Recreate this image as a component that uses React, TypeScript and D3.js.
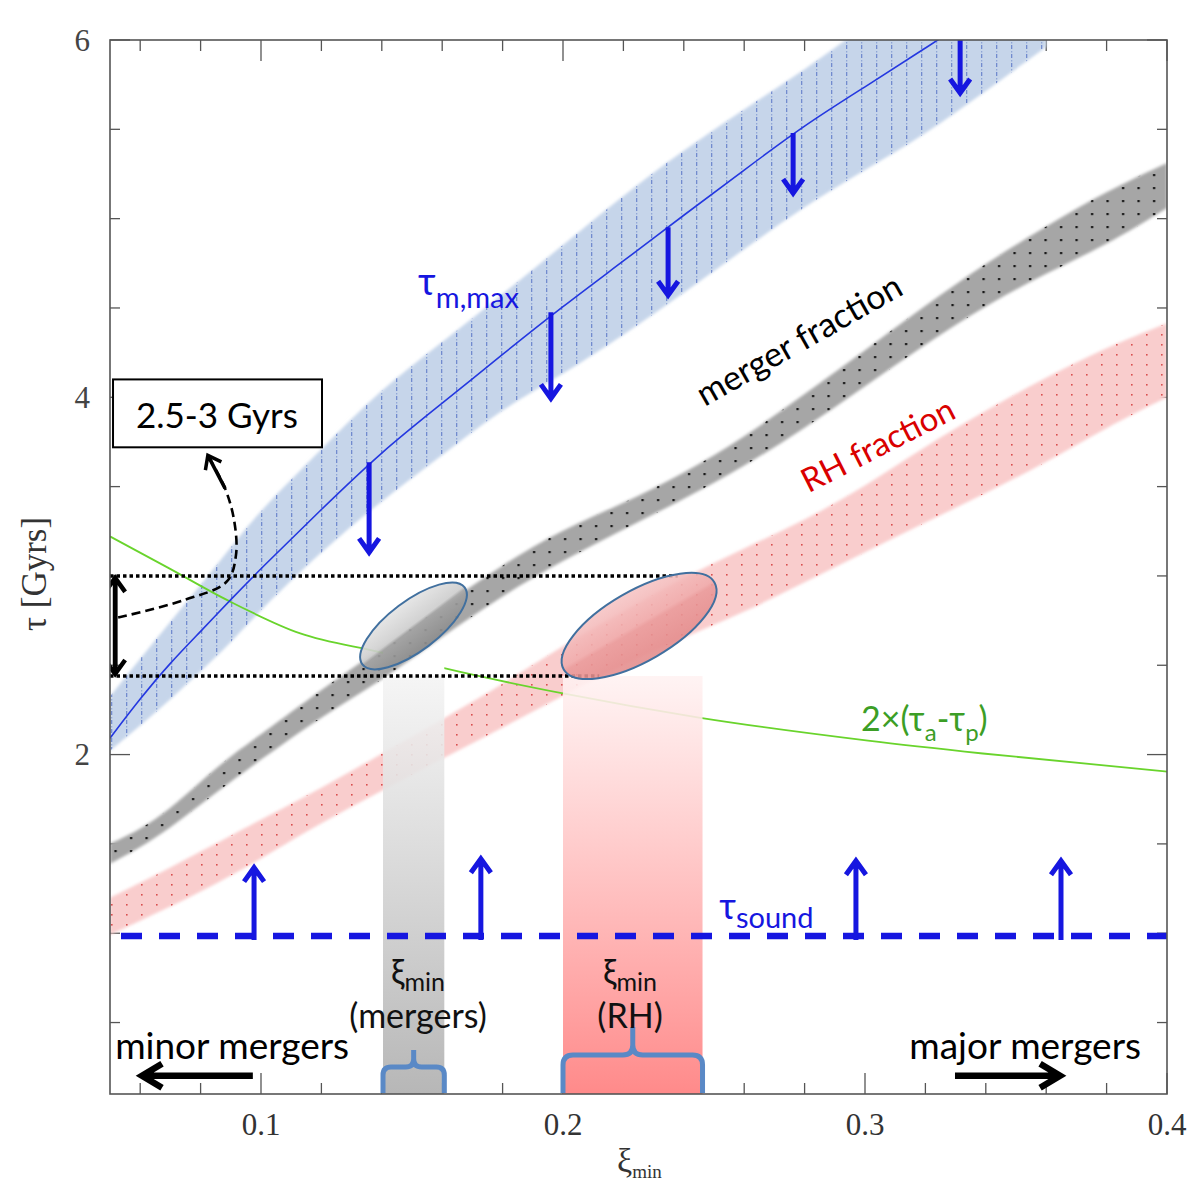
import React from 'react';
import * as d3 from 'd3';

// ---------- data ----------
const bandX = [0.05, 0.06, 0.07, 0.08, 0.09, 0.10, 0.12, 0.14, 0.16, 0.18, 0.20, 0.22, 0.24, 0.26, 0.28, 0.30, 0.32, 0.34, 0.36, 0.38, 0.40];

// tau_m,max band (upper limit) and its central line
const blueX = [0.05, 0.06, 0.07, 0.08, 0.09, 0.10, 0.12, 0.14, 0.16, 0.18, 0.20, 0.22, 0.24, 0.26, 0.28, 0.30, 0.32, 0.34, 0.36];
const blueLower = [2.022, 2.162, 2.308, 2.465, 2.627, 2.812, 3.137, 3.423, 3.675, 3.938, 4.129, 4.347, 4.583, 4.829, 5.070, 5.272, 5.473, 5.714, 5.961];
const blueUpper = [2.325, 2.538, 2.745, 2.947, 3.160, 3.373, 3.709, 4.050, 4.308, 4.577, 4.852, 5.132, 5.384, 5.613, 5.832, 6.078, 6.325, 6.56, 6.78];
const blueLineX = [0.05, 0.06, 0.07, 0.08, 0.09, 0.10, 0.12, 0.14, 0.16, 0.18, 0.20, 0.22, 0.24, 0.26, 0.28, 0.30, 0.32, 0.34];
const blueLineY = [2.092, 2.314, 2.515, 2.689, 2.868, 3.042, 3.373, 3.697, 3.966, 4.241, 4.510, 4.762, 5.020, 5.272, 5.524, 5.737, 5.955, 6.174];

// merger fraction band
const mergerLower = [1.389, 1.479, 1.591, 1.720, 1.849, 1.972, 2.213, 2.415, 2.661, 2.891, 3.087, 3.261, 3.429, 3.613, 3.826, 4.062, 4.297, 4.515, 4.695, 4.852, 5.059];
const mergerUpper = [1.501, 1.580, 1.697, 1.849, 1.994, 2.112, 2.364, 2.599, 2.829, 3.064, 3.261, 3.406, 3.574, 3.776, 4.017, 4.263, 4.515, 4.751, 4.958, 5.154, 5.311];

// RH fraction band
const rhLower = [0.992, 1.070, 1.148, 1.232, 1.322, 1.417, 1.619, 1.798, 1.978, 2.151, 2.331, 2.504, 2.655, 2.796, 2.964, 3.132, 3.300, 3.462, 3.636, 3.832, 4.000];
const rhUpper = [1.199, 1.283, 1.367, 1.457, 1.546, 1.636, 1.810, 2.006, 2.196, 2.392, 2.611, 2.801, 2.992, 3.154, 3.311, 3.501, 3.725, 3.927, 4.112, 4.280, 4.415];

// 2 x (tau_a - tau_p)
const greenX = [0.05, 0.069, 0.089, 0.113, 0.14, 0.161, 0.2, 0.245, 0.301, 0.339, 0.40];
const greenY = [3.221, 3.048, 2.863, 2.678, 2.571, 2.482, 2.342, 2.207, 2.078, 2.006, 1.905];

// upper-limit arrows on tau_m,max
const downArrowX = [0.1358, 0.196, 0.2348, 0.2762, 0.3315];
const downArrowTop = [3.636, 4.476, 4.952, 5.479, 6.0];
const downArrowTip = [3.132, 3.994, 4.571, 5.143, 5.703];

// tau_sound lower limit
const tauSound = 0.985;
const upArrowX = [0.0977, 0.1728, 0.297, 0.3649];
const upArrowTip = [1.367, 1.417, 1.406, 1.406];

// xi_min ranges
const mergerRange = [0.1404, 0.1607];
const rhRange = [0.2, 0.2462];
const rangeTop = 2.44;

// 2.5-3 Gyr window
const windowHigh = 3.0;
const windowLow = 2.44;
const windowHighEnd = 0.238;
const windowLowEnd = 0.212;
const ellipseCenterX = [0.1505, 0.2252];
const ellipseCenterY = [2.72, 2.72];

// dashed pointer from the window to the box
const pointerX = [0.0527, 0.0742, 0.0887, 0.0917, 0.0911, 0.0881, 0.0824];
const pointerY = [2.767, 2.863, 2.969, 3.115, 3.311, 3.490, 3.675];

// axes
const xTickLabels = [0.1, 0.2, 0.3, 0.4];
const yTickLabels = [2, 4, 6];

export default function App() {
  const W = 1200;
  const H = 1195;
  const x = d3.scaleLinear().domain([0.05, 0.4]).range([110, 1167]);
  const y = d3.scaleLinear().domain([0.1, 6]).range([1094, 40]);
  const [X0, X1] = x.range();
  const [Y0, Y1] = y.range(); // Y0 bottom, Y1 top

  const bandPath = (xs: number[], lo: number[], hi: number[]) =>
    d3.area<number>()
      .x((i) => x(xs[i]))
      .y0((i) => y(lo[i]))
      .y1((i) => y(hi[i]))
      .curve(d3.curveBasis)(d3.range(xs.length)) as string;

  const linePath = (xs: number[], ys: number[], curve: any = d3.curveBasis) =>
    d3.line<number>()
      .x((i) => x(xs[i]))
      .y((i) => y(ys[i]))
      .curve(curve)(d3.range(xs.length)) as string;

  const arrowPath = (x1: number, y1: number, x2: number, y2: number, hl: number, hw: number) => {
    const dx = x2 - x1, dy = y2 - y1;
    const L = Math.hypot(dx, dy);
    const ux = dx / L, uy = dy / L, px = -uy, py = ux;
    const bx = x2 - ux * hl, by = y2 - uy * hl;
    return `M${x1},${y1}L${x2},${y2}M${bx + px * hw},${by + py * hw}L${x2},${y2}L${bx - px * hw},${by - py * hw}`;
  };

  const brace = (xa: number, xb: number, yBottom: number, yBar: number, yTip: number, r: number) => {
    const cx = (xa + xb) / 2;
    return `M${xa},${yBottom}L${xa},${yBar + r}Q${xa},${yBar} ${xa + r},${yBar}L${cx - r},${yBar}Q${cx},${yBar} ${cx},${yBar - r}L${cx},${yTip}` +
      `M${cx},${yBar - r}Q${cx},${yBar} ${cx + r},${yBar}L${xb - r},${yBar}Q${xb},${yBar} ${xb},${yBar + r}L${xb},${yBottom}`;
  };

  const xTicks = d3.range(0.06, 0.4001, 0.02);
  const yTicks = d3.range(0.5, 6.001, 0.5);
  const isMajor = (v: number, labels: number[]) => labels.some((l) => Math.abs(l - v) < 1e-6);

  const sans = "Lato, 'Open Sans', 'Noto Sans', sans-serif";
  const serif = "'Liberation Serif', 'DejaVu Serif', serif";
  const blue = '#1616e0';
  const axisCol = '#555';

  // pointer arrowhead
  const pn = pointerX.length;
  const pTipX = x(pointerX[pn - 1]), pTipY = y(pointerY[pn - 1]);
  const pPrevX = x(pointerX[pn - 2]), pPrevY = y(pointerY[pn - 2]);

  return (
    <svg width={W} height={H} style={{ position: 'absolute', left: 0, top: 0, background: '#fff' }}>
      <defs>
        <clipPath id="plotClip">
          <rect x={X0} y={Y1} width={X1 - X0} height={Y0 - Y1} />
        </clipPath>
        <clipPath id="greenClip">
          <rect x={X0} y={Y1} width={x(mergerRange[0]) - X0} height={Y0 - Y1} />
          <rect x={x(mergerRange[1])} y={Y1} width={X1 - x(mergerRange[1])} height={Y0 - Y1} />
        </clipPath>
        <filter id="soft" x="-5%" y="-5%" width="110%" height="110%">
          <feGaussianBlur stdDeviation="1.6" />
        </filter>
        <pattern id="blueHatch" patternUnits="userSpaceOnUse" width="15" height="9">
          <rect x="6" y="0" width="1.3" height="4" fill="#2b4fb5" opacity="0.55" />
          <rect x="6" y="6" width="1.3" height="1.5" fill="#2b4fb5" opacity="0.35" />
        </pattern>
        <pattern id="grayDots" patternUnits="userSpaceOnUse" width="15.5" height="13">
          <rect x="6" y="5" width="2.2" height="2.2" fill="#111" />
        </pattern>
        <pattern id="redDots" patternUnits="userSpaceOnUse" width="15" height="10">
          <rect x="6" y="4" width="1.6" height="1.6" fill="#d03030" opacity="0.8" />
        </pattern>
        <linearGradient id="grayCol" x1="0" y1="0" x2="0" y2="1">
          <stop offset="0" stopColor="#f4f4f4" stopOpacity="0.88" />
          <stop offset="1" stopColor="#b3b3b3" stopOpacity="0.95" />
        </linearGradient>
        <linearGradient id="redCol" x1="0" y1="0" x2="0" y2="1">
          <stop offset="0" stopColor="#fff2f2" stopOpacity="0.88" />
          <stop offset="0.45" stopColor="#ffc4c4" stopOpacity="0.95" />
          <stop offset="1" stopColor="#ff8a8a" stopOpacity="1" />
        </linearGradient>
        <linearGradient id="grayEll" x1="0" y1="0" x2="0" y2="1">
          <stop offset="0" stopColor="#e4e4e4" />
          <stop offset="0.47" stopColor="#cdcdcd" />
          <stop offset="0.53" stopColor="#a4a4a4" />
          <stop offset="1" stopColor="#8c8c8c" />
        </linearGradient>
        <linearGradient id="redEll" x1="0" y1="0" x2="0" y2="1">
          <stop offset="0" stopColor="#f6c4c4" />
          <stop offset="0.47" stopColor="#f0abab" />
          <stop offset="0.53" stopColor="#ea9a9a" />
          <stop offset="1" stopColor="#e38a8a" />
        </linearGradient>
      </defs>

      {/* axis ticks (under the shaded columns) */}
      <g stroke={axisCol} strokeWidth={1.3}>
        {xTicks.map((t, i) => {
          const len = isMajor(t, xTickLabels) ? 21 : 11;
          return (
            <g key={'xt' + i}>
              <line x1={x(t)} x2={x(t)} y1={Y0} y2={Y0 - len} />
              <line x1={x(t)} x2={x(t)} y1={Y1} y2={Y1 + len} />
            </g>
          );
        })}
        {yTicks.map((t, i) => {
          const len = isMajor(t, yTickLabels) ? 20 : 10;
          return (
            <g key={'yt' + i}>
              <line x1={X0} x2={X0 + len} y1={y(t)} y2={y(t)} />
              <line x1={X1} x2={X1 - len} y1={y(t)} y2={y(t)} />
            </g>
          );
        })}
      </g>

      <g clipPath="url(#plotClip)">
        {/* tau_m,max band */}
        <path d={bandPath(blueX, blueLower, blueUpper)} fill="#c6d5ea" filter="url(#soft)" />
        <path d={bandPath(blueX, blueLower, blueUpper)} fill="url(#blueHatch)" />
        {/* merger fraction band */}
        <path d={bandPath(bandX, mergerLower, mergerUpper)} fill="#a6a6a6" filter="url(#soft)" />
        <path d={bandPath(bandX, mergerLower, mergerUpper)} fill="url(#grayDots)" />
        {/* RH fraction band */}
        <path d={bandPath(bandX, rhLower, rhUpper)} fill="#f9cdcd" filter="url(#soft)" />
        <path d={bandPath(bandX, rhLower, rhUpper)} fill="url(#redDots)" />

        {/* 2x(tau_a - tau_p) */}
        <path d={linePath(greenX, greenY, d3.curveMonotoneX)} fill="none" stroke="#69d42c" strokeWidth={1.8} clipPath="url(#greenClip)" />

        {/* xi_min columns */}
        <rect x={x(mergerRange[0])} y={y(rangeTop)} width={x(mergerRange[1]) - x(mergerRange[0])} height={Y0 - y(rangeTop)} fill="url(#grayCol)" />
        <rect x={x(rhRange[0])} y={y(rangeTop)} width={x(rhRange[1]) - x(rhRange[0])} height={Y0 - y(rangeTop)} fill="url(#redCol)" />

        {/* central tau_m,max line */}
        <path d={linePath(blueLineX, blueLineY)} fill="none" stroke="#2438e0" strokeWidth={1.6} />
        {downArrowX.map((v, i) => (
          <path key={'da' + i} d={arrowPath(x(v), y(downArrowTop[i]), x(v), y(downArrowTip[i]), 14, 10)}
            fill="none" stroke={blue} strokeWidth={5} strokeLinejoin="miter" />
        ))}

        {/* tau_sound */}
        <line x1={X0} x2={X1} y1={y(tauSound)} y2={y(tauSound)} stroke={blue} strokeWidth={6.5}
          strokeDasharray="21 17" strokeDashoffset={27} />
        {upArrowX.map((v, i) => (
          <path key={'ua' + i} d={arrowPath(x(v), y(tauSound) + 4, x(v), y(upArrowTip[i]), 14, 10)}
            fill="none" stroke={blue} strokeWidth={5} strokeLinejoin="miter" />
        ))}

        {/* 2.5 - 3 Gyr window */}
        <line x1={X0} x2={x(windowHighEnd)} y1={y(windowHigh)} y2={y(windowHigh)} stroke="#000" strokeWidth={3.5} strokeDasharray="3.5 3" />
        <line x1={X0} x2={x(windowLowEnd)} y1={y(windowLow)} y2={y(windowLow)} stroke="#000" strokeWidth={3.5} strokeDasharray="3.5 3" />
        <g transform={`translate(${x(ellipseCenterX[0])},${y(ellipseCenterY[0])}) rotate(-37)`}>
          <ellipse rx={64} ry={25} fill="url(#grayEll)" fillOpacity={0.9} stroke="#41709f" strokeWidth={2} />
        </g>
        <g transform={`translate(${x(ellipseCenterX[1])},${y(ellipseCenterY[1])}) rotate(-30)`}>
          <ellipse rx={87} ry={35} fill="url(#redEll)" fillOpacity={0.88} stroke="#41709f" strokeWidth={2} />
        </g>
        <path d={arrowPath(x(0.0517), y(windowLow) - 2, x(0.0517), y(windowHigh) + 2, 14, 10)} fill="none" stroke="#000" strokeWidth={4.5} />
        <path d={arrowPath(x(0.0517), y(windowHigh) + 2, x(0.0517), y(windowLow) - 2, 14, 10)} fill="none" stroke="#000" strokeWidth={4.5} />

        {/* dashed pointer to the box */}
        <path d={linePath(pointerX, pointerY, d3.curveCatmullRom)} fill="none" stroke="#000" strokeWidth={2.6} strokeDasharray="9 5" />
        <path d={arrowPath(pPrevX, pPrevY, pTipX, pTipY, 12, 9)} fill="none" stroke="#000" strokeWidth={3.5} />

        {/* minor / major mergers arrows */}
        <path d={arrowPath(x(0.0973), y(0.202), x(0.0606), y(0.202), 20, 12)} fill="none" stroke="#000" strokeWidth={6.5} />
        <path d={arrowPath(x(0.3298), y(0.202), x(0.3646), y(0.202), 20, 12)} fill="none" stroke="#000" strokeWidth={6.5} />

        {/* braces */}
        <path d={brace(x(mergerRange[0]), x(mergerRange[1]), Y0 - 1, Y0 - 27, Y0 - 44, 8)} fill="none" stroke="#5a89c6" strokeWidth={5} />
        <path d={brace(x(rhRange[0]), x(rhRange[1]), Y0 - 1, Y0 - 39, Y0 - 67, 10)} fill="none" stroke="#5a89c6" strokeWidth={5} />
      </g>

      {/* frame */}
      <rect x={X0} y={Y1} width={X1 - X0} height={Y0 - Y1} fill="none" stroke={axisCol} strokeWidth={1.6} />

      {/* box */}
      <rect x={x(0.051)} y={y(4.10)} width={x(0.1202) - x(0.051)} height={y(3.72) - y(4.10)} fill="#fff" stroke="#000" strokeWidth={2} />
      <text x={x(0.0854)} y={y(3.826)} textAnchor="middle" fontFamily={sans} fontSize={35} fill="#000">2.5-3 Gyrs</text>

      {/* annotations */}
      <text x={x(0.152)} y={y(4.571)} fontFamily={sans} fontSize={38} fill={blue}>
        τ<tspan fontSize={29} dy={13}>m,max</tspan>
      </text>
      <text transform={`translate(${x(0.2801)},${y(4.263)}) rotate(-29.5)`} textAnchor="middle" fontFamily={sans} fontSize={34} fill="#000">merger fraction</text>
      <text transform={`translate(${x(0.306)},${y(3.675)}) rotate(-27)`} textAnchor="middle" fontFamily={sans} fontSize={33} fill="#d90000">RH fraction</text>
      <text x={x(0.2987)} y={y(2.134)} fontFamily={sans} fontSize={34} fill="#3c9e26">
        2×(τ<tspan fontSize={24} dy={10}>a</tspan><tspan dy={-10}>-τ</tspan><tspan fontSize={24} dy={10}>p</tspan><tspan dy={-10}>)</tspan>
      </text>
      <text x={x(0.2517)} y={y(1.081)} fontFamily={sans} fontSize={36} fill={blue}>
        τ<tspan fontSize={29} dy={9}>sound</tspan>
      </text>
      <text x={x(0.152)} y={y(0.717)} textAnchor="middle" fontFamily={sans} fontSize={34} fill="#111">
        ξ<tspan fontSize={25} dy={7}>min</tspan>
      </text>
      <text x={x(0.152)} y={y(0.471)} textAnchor="middle" fontFamily={sans} fontSize={34} fill="#111">(mergers)</text>
      <text x={x(0.2222)} y={y(0.717)} textAnchor="middle" fontFamily={sans} fontSize={34} fill="#111">
        ξ<tspan fontSize={25} dy={7}>min</tspan>
      </text>
      <text x={x(0.2222)} y={y(0.471)} textAnchor="middle" fontFamily={sans} fontSize={34} fill="#111">(RH)</text>
      <text x={x(0.0517)} y={y(0.297)} fontFamily={sans} fontSize={37} fill="#000">minor mergers</text>
      <text x={x(0.3914)} y={y(0.297)} textAnchor="end" fontFamily={sans} fontSize={37} fill="#000">major mergers</text>

      {/* tick labels */}
      {xTickLabels.map((t) => (
        <text key={'xl' + t} x={x(t)} y={Y0 + 41} textAnchor="middle" fontFamily={serif} fontSize={31} fill="#333">{t.toFixed(1)}</text>
      ))}
      {yTickLabels.map((t) => (
        <text key={'yl' + t} x={X0 - 20} y={y(t)} textAnchor="end" dominantBaseline="central" fontFamily={serif} fontSize={31} fill="#444">{t}</text>
      ))}

      {/* axis titles */}
      <text x={617} y={1172} fontFamily={serif} fontSize={34} fill="#333">
        ξ<tspan fontSize={19} dy={6}>min</tspan>
      </text>
      <text transform="translate(46,574) rotate(-90)" textAnchor="middle" fontFamily={serif} fontSize={35} fill="#333">τ [Gyrs]</text>
    </svg>
  );
}
